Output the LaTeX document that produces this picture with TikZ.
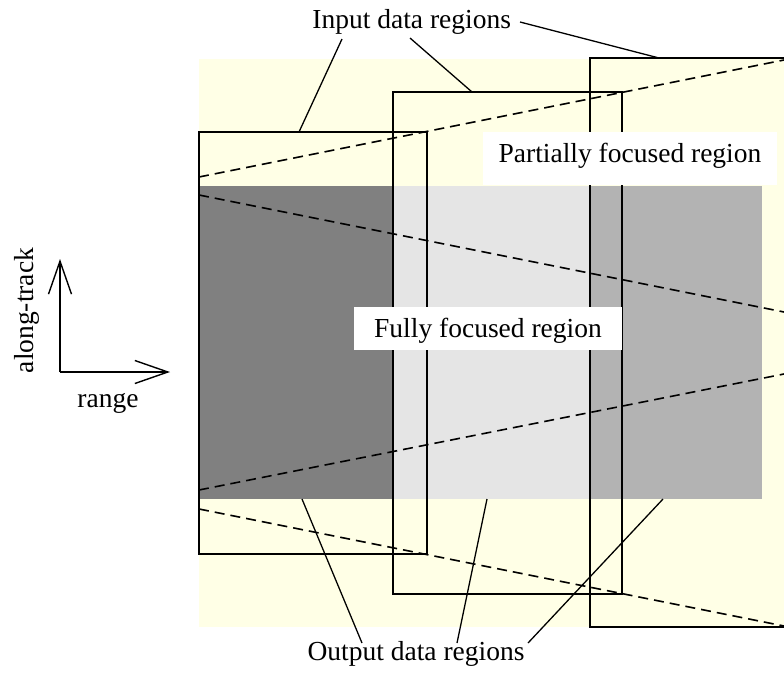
\documentclass[tikz,border=0pt]{standalone}
\usepackage{fontspec}
\setmainfont{Liberation Serif}
\usetikzlibrary{arrows.meta}
\definecolor{bgyellow}{RGB}{255,255,230}
\definecolor{darkband}{RGB}{128,128,128}
\definecolor{lightband}{RGB}{229,229,229}
\definecolor{midband}{RGB}{179,179,179}
\begin{document}
\begin{tikzpicture}[x=1pt,y=-1pt,
  inregion/.style={draw, line width=1.6pt, inner sep=0pt, outer sep=0pt},
  beam/.style={dash pattern=on 10pt off 6pt, line width=1.6pt},
  leader/.style={line width=1.3pt},
  lbl/.style={font=\fontsize{27.5}{33}\selectfont, inner sep=0pt},
  whitebox/.style={fill=white, inner sep=0pt, font=\fontsize{27.5}{33}\selectfont},
  axis/.style={line width=1.4pt, -{Straight Barb[length=33pt,width=23pt,line width=1.4pt]}}
]
\clip (0,0) rectangle (784,675);

% scene area and output band
\fill[bgyellow] (199,59) rectangle (784,627);
\fill[darkband] (199,186) rectangle (393,499);
\fill[lightband] (393,186) rectangle (590,499);
\fill[midband] (590,186) rectangle (762,499);

% beam edges
\draw[beam] (199,177) -- (784,60);
\draw[beam] (199,195) -- (784,312);
\draw[beam] (199,490) -- (784,374);
\draw[beam] (199,509) -- (784,626);

% input data regions
\node[inregion, minimum width=228pt, minimum height=422pt] (r1) at (313,343) {};
\node[inregion, minimum width=229pt, minimum height=502pt] (r2) at (507.5,343) {};
\node[inregion, minimum width=228pt, minimum height=569pt] (r3) at (704,342.5) {};

% region labels on white boxes
\node[whitebox, minimum width=294pt, minimum height=53pt,
      text height=13pt, text depth=6pt] (partial) at (630,158.5) {Partially focused region};
\node[whitebox, minimum width=268pt, minimum height=43pt,
      text height=20pt, text depth=3pt] (full) at (488,328.5) {Fully focused region};

% captions
\node[lbl, anchor=base] (inlabel) at (411.7,28.5) {Input data regions};
\node[lbl, anchor=base] (outlabel) at (416,660) {Output data regions};
\node[lbl, anchor=base, rotate=90] (along) at (33,310.5) {along-track};
\node[lbl, anchor=base] (range) at (108,407) {range};

% axes
\coordinate (origin) at (60,372);
\coordinate (uptip) at (60,259);
\coordinate (righttip) at (170,372);
\draw[axis] (origin) -- (uptip);
\draw[axis] (origin) -- (righttip);

% leaders to input regions
\coordinate (in1s) at (342,39);  \coordinate (in1e) at (299,132);
\coordinate (in2s) at (410,38);  \coordinate (in2e) at (472,92);
\coordinate (in3s) at (520,22);  \coordinate (in3e) at (659,58);
\draw[leader] (in1s) -- (in1e);
\draw[leader] (in2s) -- (in2e);
\draw[leader] (in3s) -- (in3e);

% leaders to output regions
\coordinate (out1s) at (362,643); \coordinate (out1e) at (302,499);
\coordinate (out2s) at (457,643); \coordinate (out2e) at (487,499);
\coordinate (out3s) at (528,643); \coordinate (out3e) at (663,499);
\draw[leader] (out1s) -- (out1e);
\draw[leader] (out2s) -- (out2e);
\draw[leader] (out3s) -- (out3e);
\end{tikzpicture}
\end{document}
